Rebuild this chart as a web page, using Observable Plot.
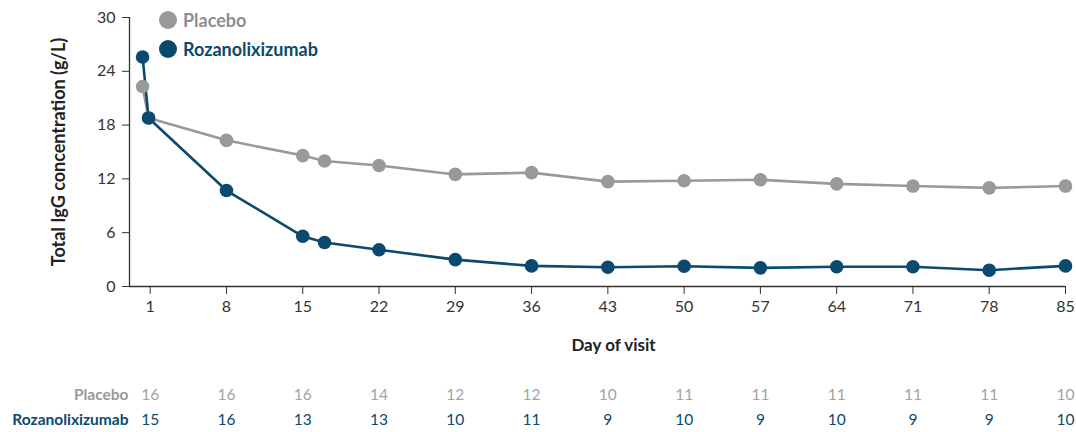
<!DOCTYPE html>
<html><head><meta charset="utf-8">
<script src="https://cdn.jsdelivr.net/npm/d3@7"></script>
<script src="https://cdn.jsdelivr.net/npm/@observablehq/plot@0.6"></script>
<style>
body{margin:0;background:#fff;font-family:Lato,"DejaVu Sans Condensed",sans-serif;}
#wrap{position:relative;width:1076px;}
#wrap svg{display:block;}
.leg{position:absolute;left:159px;display:flex;align-items:center;font-weight:bold;font-size:18px;}
.leg span.dot{display:inline-block;width:18px;height:18px;border-radius:50%;margin-right:6px;}
</style></head><body><div id="wrap"></div>
<script>
const days = [0.3, 0.85, 8, 15, 17, 22, 29, 36, 43, 50, 57, 64, 71, 78, 85];
const placebo = [22.3, 18.8, 16.3, 14.6, 14.0, 13.5, 12.5, 12.7, 11.7, 11.8, 11.9, 11.45, 11.2, 11.0, 11.2];
const roza = [25.6, 18.8, 10.7, 5.6, 4.9, 4.1, 3.0, 2.3, 2.15, 2.26, 2.08, 2.2, 2.2, 1.82, 2.3];
const tickDays = [1, 8, 15, 22, 29, 36, 43, 50, 57, 64, 71, 78, 85];
const yTicks = [0, 6, 12, 18, 24, 30];
const nPlacebo = [16, 16, 16, 14, 12, 12, 10, 11, 11, 11, 11, 11, 10];
const nRoza = [15, 16, 13, 13, 10, 11, 9, 10, 9, 10, 9, 9, 10];
const groups = ["Placebo", "Rozanolixizumab"];
const colors = {"Placebo": "#999999", "Rozanolixizumab": "#0b4a6e"};

const series = [
  ...days.map((d, i) => ({day: d, value: placebo[i], group: "Placebo"})),
  ...days.map((d, i) => ({day: d, value: roza[i], group: "Rozanolixizumab"}))
];
const risk = [
  ...tickDays.map((d, i) => ({day: d, n: nPlacebo[i], group: "Placebo"})),
  ...tickDays.map((d, i) => ({day: d, n: nRoza[i], group: "Rozanolixizumab"}))
];

const font = 'Lato,"DejaVu Sans Condensed",sans-serif';
const xDomain = [-0.9, 85];

const main = Plot.plot({
  width: 1076, height: 365,
  marginLeft: 129, marginRight: 11, marginTop: 17, marginBottom: 79,
  style: {fontFamily: font, fontSize: "16px", color: "#333", background: "#fff"},
  x: {domain: xDomain},
  y: {domain: [0, 30]},
  color: {domain: groups, range: groups.map(g => colors[g])},
  marks: [
    Plot.axisY({ticks: yTicks, tickSize: 7, tickPadding: 7, label: "Total IgG concentration (g/L)", labelArrow: "none", labelAnchor: "center", labelOffset: 77, fontSize: 16, fill: "#333"}),
    Plot.axisX({ticks: tickDays, tickSize: 8, tickPadding: 6, label: null, fontSize: 16, fill: "#333"}),
    Plot.text(["Day of visit"], {frameAnchor: "bottom", dx: 16, dy: 64, text: d => d, fontWeight: "bold", fontSize: 17, fill: "#222"}),
    Plot.ruleX([xDomain[0]], {y1: 0, y2: 30, stroke: "#333", strokeWidth: 1.3}),
    Plot.ruleY([0], {x1: xDomain[0], x2: 85, stroke: "#333", strokeWidth: 1.3}),
    Plot.line(series, {x: "day", y: "value", stroke: "group", strokeWidth: 2.6}),
    Plot.dot(series, {x: "day", y: "value", fill: "group", r: 6.8})
  ]
});
main.querySelectorAll('[aria-label="y-axis label"] text').forEach(t => {
  t.textContent = t.textContent.replace(/[\u2190-\u2193]/g, "").trim();
  t.setAttribute("font-weight", "bold"); t.setAttribute("font-size", "18"); t.setAttribute("fill", "#222");
});

const table = Plot.plot({
  width: 1076, height: 67,
  marginLeft: 129, marginRight: 11, marginTop: 0, marginBottom: 0,
  style: {fontFamily: font, fontSize: "15px", background: "#fff"},
  x: {domain: xDomain, axis: null},
  y: {type: "point", domain: groups, range: [30, 55], padding: 0, axis: null},
  marks: [
    Plot.text(groups, {y: d => d, text: d => d, frameAnchor: "left", textAnchor: "end", dx: -1, fill: d => colors[d], fontWeight: "bold", fontSize: 15.5}),
    Plot.text(risk, {x: "day", y: "group", text: "n", fill: d => d.group === "Placebo" ? "#a3a3a3" : colors[d.group], fontSize: 15.5, fontWeight: d => d.group === "Rozanolixizumab" ? "bold" : "normal"})
  ]
});

const wrap = document.getElementById("wrap");
wrap.appendChild(main);
wrap.appendChild(table);
groups.forEach((g, i) => {
  const el = document.createElement("div");
  el.className = "leg";
  el.style.top = (9 + i * 29) + "px";
  el.style.color = g === "Placebo" ? "#8e8e8e" : colors[g];
  el.innerHTML = `<span class="dot" style="background:${colors[g]}"></span>${g}`;
  wrap.appendChild(el);
});
</script></body></html>
